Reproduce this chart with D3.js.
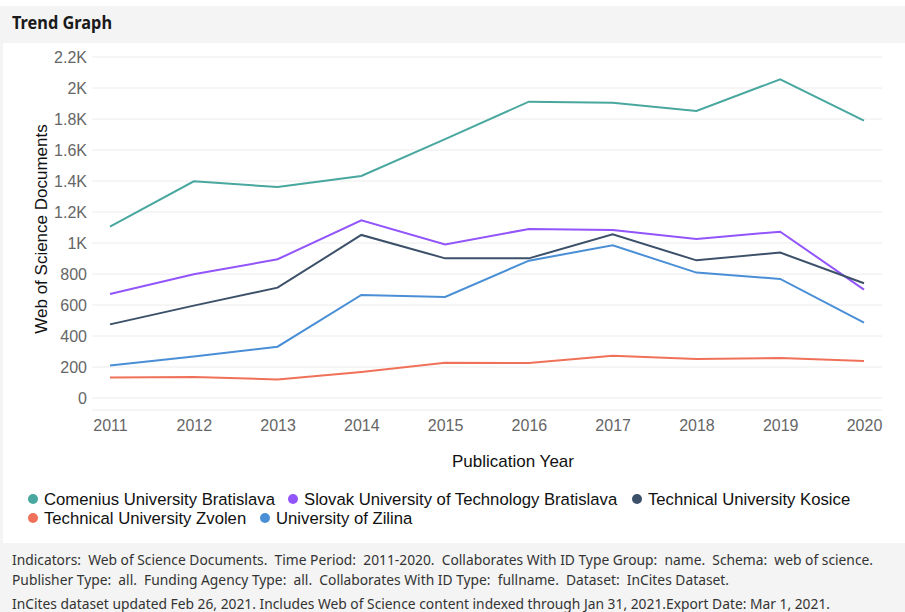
<!DOCTYPE html>
<html>
<head>
<meta charset="utf-8">
<script src="https://cdn.jsdelivr.net/npm/d3@7"></script>
<style>
  body { margin: 0; background: #f4f4f4; }
  svg { display: block; }
</style>
</head>
<body>
<div id="chart"></div>
<script>
// years on the x axis
var years = [2011, 2012, 2013, 2014, 2015, 2016, 2017, 2018, 2019, 2020];

// one array per university (Web of Science Documents)
var comenius = [1105, 1398, 1361, 1432, 1670, 1912, 1905, 1852, 2056, 1789];
var slovakTech = [671, 798, 895, 1146, 991, 1090, 1084, 1026, 1073, 699];
var kosice = [475, 596, 712, 1052, 901, 901, 1056, 888, 938, 740];
var zvolen = [133, 135, 120, 168, 228, 226, 273, 252, 258, 239];
var zilina = [209, 267, 331, 665, 652, 886, 985, 809, 768, 486];

var seriesNames = ["Comenius University Bratislava", "Slovak University of Technology Bratislava",
  "Technical University Kosice", "Technical University Zvolen", "University of Zilina"];
var yTicks = [0, 200, 400, 600, 800, 1000, 1200, 1400, 1600, 1800, 2000, 2200];

var colors = ["#48a79e", "#9254fb", "#3c5069", "#f07159", "#4a8fd6"];

var series = [comenius, slovakTech, kosice, zvolen, zilina].map(function(vals, i) {
  return { name: seriesNames[i], color: colors[i], values: vals };
});

var width = 905, height = 612;

var svg = d3.select("#chart").append("svg")
    .attr("width", width)
    .attr("height", height);

// background panels
svg.append("rect").attr("x", 0).attr("y", 0).attr("width", width).attr("height", 6).attr("fill", "#fff");
svg.append("rect").attr("x", 0).attr("y", 6).attr("width", width).attr("height", 37).attr("fill", "#f4f4f4");
svg.append("rect").attr("x", 3).attr("y", 43).attr("width", width - 3).attr("height", 500).attr("fill", "#fff");

svg.append("text")
    .attr("x", 12).attr("y", 29)
    .attr("textLength", 100)
    .attr("lengthAdjust", "spacingAndGlyphs")
    .style("font-family", "'Noto Sans', sans-serif")
    .style("font-size", "17px")
    .style("font-weight", "bold")
    .style("fill", "#1a1a1a")
    .text("Trend Graph");

// plot area
var left = 92, right = 882;
var x = d3.scalePoint()
    .domain(years)
    .range([110, 864]);

var y = d3.scaleLinear()
    .domain([0, 2200])
    .range([398, 57]);

var bottom = 410;

var g = svg.append("g");

// gridlines
g.selectAll(".grid")
    .data(yTicks)
  .enter().append("line")
    .attr("x1", left).attr("x2", right)
    .attr("y1", function(d) { return y(d); })
    .attr("y2", function(d) { return y(d); })
    .attr("stroke", "#ececec")
    .attr("stroke-width", 1);

g.append("line")
    .attr("x1", left).attr("x2", right)
    .attr("y1", bottom).attr("y2", bottom)
    .attr("stroke", "#ececec");

// y axis
var yAxis = d3.axisLeft(y)
    .tickValues(yTicks)
    .tickSize(0)
    .tickPadding(0)
    .tickFormat(function(d) { return d >= 1000 ? (d / 1000) + "K" : d; });

var ya = svg.append("g")
    .attr("transform", "translate(87,0)")
    .call(yAxis);
ya.select(".domain").remove();
ya.selectAll("text")
    .attr("dy", "0.36em")
    .style("font-family", "'Liberation Sans', Arial, sans-serif")
    .style("font-size", "16px")
    .style("fill", "#666");

// x axis
var xAxis = d3.axisBottom(x)
    .tickSize(0)
    .tickPadding(0)
    .tickFormat(d3.format("d"));

var xa = svg.append("g")
    .attr("transform", "translate(0,420)")
    .call(xAxis);
xa.select(".domain").remove();
xa.selectAll("text")
    .attr("dy", "0.71em")
    .style("font-family", "'Liberation Sans', Arial, sans-serif")
    .style("font-size", "16px")
    .style("fill", "#666");

// axis titles
svg.append("text")
    .attr("x", 513).attr("y", 467)
    .attr("text-anchor", "middle")
    .style("font-family", "'Liberation Sans', Arial, sans-serif")
    .style("font-size", "17px")
    .style("fill", "#111")
    .text("Publication Year");

svg.append("text")
    .attr("transform", "translate(47,229) rotate(-90)")
    .attr("text-anchor", "middle")
    .style("font-family", "'Liberation Sans', Arial, sans-serif")
    .style("font-size", "17px")
    .style("fill", "#111")
    .text("Web of Science Documents");

// lines
var line = d3.line()
    .x(function(d, i) { return x(years[i]); })
    .y(function(d) { return y(d); });

svg.selectAll(".series")
    .data(series)
  .enter().append("path")
    .attr("class", "series")
    .attr("d", function(d) { return line(d.values); })
    .attr("fill", "none")
    .attr("stroke", function(d) { return d.color; })
    .attr("stroke-width", 2);

// legend
var legendPos = [[33, 499], [293, 499], [637, 499], [33, 518], [265, 518]];

var lg = svg.selectAll(".legend")
    .data(series)
  .enter().append("g")
    .attr("transform", function(d, i) { return "translate(" + legendPos[i][0] + "," + legendPos[i][1] + ")"; });

lg.append("circle")
    .attr("r", 5)
    .attr("fill", function(d) { return d.color; });

lg.append("text")
    .attr("x", 11)
    .attr("dy", "0.36em")
    .style("font-family", "'Liberation Sans', Arial, sans-serif")
    .style("font-size", "16.7px")
    .style("fill", "#111")
    .text(function(d) { return d.name; });

// footer notes
var notes = [
  "Indicators:  Web of Science Documents.  Time Period:  2011-2020.  Collaborates With ID Type Group:  name.  Schema:  web of science.",
  "Publisher Type:  all.  Funding Agency Type:  all.  Collaborates With ID Type:  fullname.  Dataset:  InCites Dataset.",
  "InCites dataset updated Feb 26, 2021. Includes Web of Science content indexed through Jan 31, 2021.Export Date: Mar 1, 2021."
];
var noteY = [565, 585, 609];
var noteW = [861, 717, 818];

svg.selectAll(".note")
    .data(notes)
  .enter().append("text")
    .attr("x", 12)
    .attr("y", function(d, i) { return noteY[i]; })
    .attr("textLength", function(d, i) { return noteW[i]; })
    .attr("lengthAdjust", "spacingAndGlyphs")
    .style("font-family", "'Noto Sans', sans-serif")
    .style("font-size", "14px")
    .style("fill", "#333")
    .style("white-space", "pre")
    .text(function(d) { return d; });
</script>
</body>
</html>
